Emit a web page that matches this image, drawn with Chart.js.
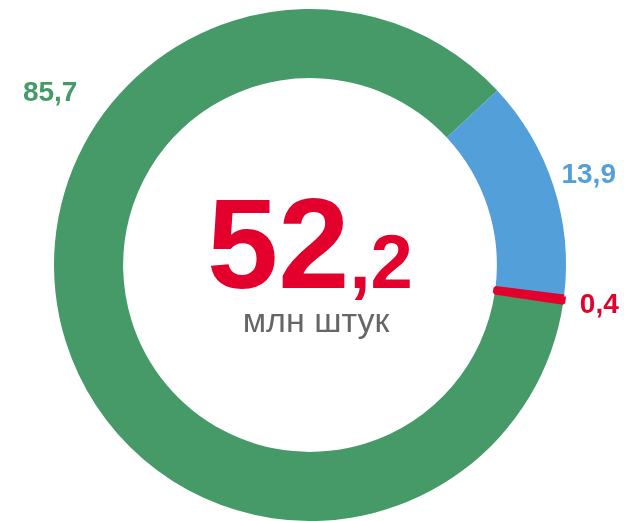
<!DOCTYPE html>
<html>
<head>
<meta charset="utf-8">
<script src="https://cdn.jsdelivr.net/npm/chart.js@4"></script>
<style>
  html, body { margin: 0; padding: 0; background: #fff; }
  #wrap { width: 624px; height: 521px; position: relative; }
</style>
</head>
<body>
<div id="wrap"><canvas id="c" width="624" height="521"></canvas></div>
<script>
const categories = ['Прочие', 'Группа 2', 'Группа 3'];
const values = [85.7, 13.9, 0.4];
const valueLabels = ['85,7', '13,9', '0,4'];
const totalMain = '52';
const totalFrac = ',2';
const totalUnit = 'млн штук';

const colors = ['#459A68', '#539FD9', '#E3002C'];

const labelPlugin = {
  id: 'labels',
  afterDraw(chart) {
    const ctx = chart.ctx;
    const meta = chart.getDatasetMeta(0);
    const font = 'bold 28px "Liberation Sans", Arial, sans-serif';
    // label placement: extra distance beyond the ring and optional angle override (radians)
    const place = [
      { extra: 56, angle: -146.4 * Math.PI / 180 },
      { extra: 37, angle: null },
      { extra: 36, angle: null }
    ];
    meta.data.forEach((arc, i) => {
      const p = arc.getProps(['x', 'y', 'startAngle', 'endAngle', 'outerRadius'], true);
      const a = place[i].angle !== null ? place[i].angle : (p.startAngle + p.endAngle) / 2;
      const r = p.outerRadius + place[i].extra;
      const x = p.x + Math.cos(a) * r;
      const y = p.y + Math.sin(a) * r;
      ctx.save();
      ctx.font = font;
      ctx.fillStyle = colors[i];
      ctx.textAlign = 'center';
      ctx.textBaseline = 'middle';
      ctx.fillText(valueLabels[i], x, y + 1);
      ctx.restore();
    });
    // center text
    const a0 = meta.data[0];
    const cx = a0.x, cy = a0.y;
    ctx.save();
    const fBig = 'bold 128px "Liberation Sans", Arial, sans-serif';
    const fSmall = 'bold 76px "Liberation Sans", Arial, sans-serif';
    ctx.font = fBig;
    const w1 = ctx.measureText(totalMain).width;
    ctx.font = fSmall;
    const w2 = ctx.measureText(totalFrac).width;
    const start = cx - (w1 + w2) / 2;
    ctx.fillStyle = '#E3002C';
    ctx.textBaseline = 'alphabetic';
    ctx.textAlign = 'left';
    ctx.font = fBig;
    ctx.fillText(totalMain, start, cy + 23);
    ctx.font = fSmall;
    ctx.fillText(totalFrac, start + w1, cy + 23);
    ctx.font = '34px "Liberation Sans", Arial, sans-serif';
    ctx.fillStyle = '#666666';
    ctx.textAlign = 'center';
    ctx.fillText(totalUnit, cx + 6, cy + 67);
    ctx.restore();
  }
};

new Chart(document.getElementById('c'), {
  type: 'doughnut',
  data: {
    labels: categories,
    datasets: [{
      data: values,
      backgroundColor: colors,
      borderColor: colors,
      borderWidth: [0, 0, 4],
      hoverOffset: 0
    }]
  },
  options: {
    responsive: false,
    animation: false,
    rotation: 98.5,
    cutout: '73%',
    radius: 256,
    layout: { padding: { top: 9, bottom: 0, left: 0, right: 4 } },
    plugins: {
      legend: { display: false },
      tooltip: { enabled: false }
    }
  },
  plugins: [labelPlugin]
});
</script>
</body>
</html>
